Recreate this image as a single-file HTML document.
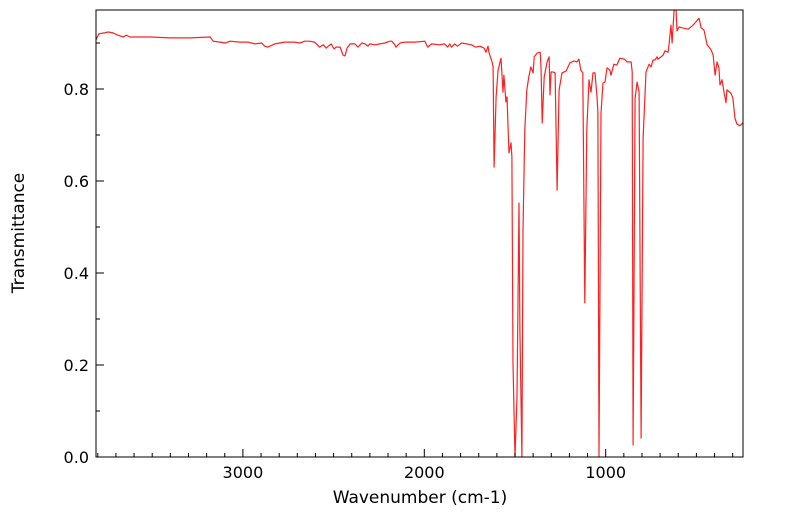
<!DOCTYPE html>
<html><head><meta charset="utf-8"><style>
body{margin:0;background:#fff;}
svg{display:block;font-family:"DejaVu Sans","Liberation Sans",sans-serif;}
</style></head><body>
<svg id="chart" width="799" height="516"></svg>
<script>
const wavenumbers=[3810,3794,3765,3743,3716,3688,3660,3644,3622,
3512,3402,3291,3180,3164,3126,3098,3071,3016,2972,2934,2896,2879,2863,2824,2770,2715,2687,2660,2633,2605,2578,2557,2541,2530,2513,2497,2486,2464,2448,2437,2426,2409,2382,2366,2344,2327,2311,2300,2272,2245,2218,2190,2179,2162,2156,2134,2107,2052,1997,
1981,1959,1915,1888,1871,1860,1850,1833,1817,1795,1767,1740,1718,1693,1671,1660,1649,
1643,1626,1621,1615,1604,1593,1577,1566,1561,1550,1544,1539,1533,1522,1517,1511,1500,1489,1478,1473,1462,1456,1446,1435,1424,1413,1400,1394,1378,1361,1356,1350,1339,1323,1312,1307,1301,1290,1279,1268,1257,1241,1219,1197,1175,1159,1148,1137,1126,1115,1104,1092,1081,1070,1059,1048,1043,1037,1026,1015,1004,993,
977,971,955,939,922,898,882,860,854,849,838,827,816,805,794,778,761,750,739,728,717,712,694,683,673,656,651,640,634,629,623,612,607,596,579,545,518,485,474,458,441,419,408,397,386,376,370,359,348,337,332,310,299,288,277,261,244];
const transmittance=[.907,.920,.922,.924,.922,.917,.913,.917,.913,
.913,.911,.911,.913,.904,.902,.900,.904,.902,.902,.898,.900,.893,.891,.898,.902,.902,.900,.904,.904,.902,.891,.896,.889,.893,.898,.887,.891,.891,.874,.872,.889,.898,.898,.891,.900,.898,.893,.898,.896,.898,.900,.904,.904,.896,.891,.900,.902,.902,.904,
.891,.898,.896,.898,.891,.898,.891,.898,.893,.900,.898,.896,.891,.893,.889,.880,.893,
.878,.859,.848,.630,.783,.841,.867,.793,.830,.772,.783,.726,.661,.683,.652,.204,0,.130,.552,.276,0,.493,.711,.798,.826,.848,.835,.870,.878,.880,.841,.726,.826,.859,.870,.787,.837,.837,.835,.580,.798,.835,.839,.857,.861,.859,.865,.841,.835,.335,.711,.820,.793,.835,.835,.783,.748,0,.748,.813,.815,.846,
.841,.830,.854,.852,.867,.865,.859,.859,.837,.026,.780,.815,.793,.041,.693,.837,.854,.848,.863,.863,.870,.865,.870,.874,.883,.880,.896,.939,.900,.933,.972,.972,.926,.935,.933,.930,.939,.954,.933,.928,.896,.885,.874,.830,.859,.846,.809,.820,.793,.770,.798,.791,.780,.737,.724,.720,.726];
const xTicks=[3000,2000,1000];
const yTicks=[0,0.2,0.4,0.6,0.8];
const L=96,R=743,T=10,B=457;
const xs=w=>605.7+(1000-w)*0.1814;
const ys=v=>B-v*460;
const NS="http://www.w3.org/2000/svg";
const svg=document.getElementById('chart');
function mk(t,a){const e=document.createElementNS(NS,t);for(const k in a)e.setAttribute(k,a[k]);svg.appendChild(e);return e;}
const clip=mk('clipPath',{id:'pa'});
const cr=document.createElementNS(NS,'rect');cr.setAttribute('x',L);cr.setAttribute('y',T);cr.setAttribute('width',R-L);cr.setAttribute('height',B-T);clip.appendChild(cr);
const pts=wavenumbers.map((w,i)=>xs(w).toFixed(1)+','+ys(transmittance[i]).toFixed(1)).join(' ');
const line=mk('polyline',{points:pts,fill:'none',stroke:'#ff2020','stroke-width':1.2,'stroke-linejoin':'round','clip-path':'url(#pa)'});


const frame=mk('rect',{x:L,y:T,width:R-L,height:B-T,fill:'none',stroke:'#000','stroke-width':1});


for(let w=3800;w>=200;w-=100){const x=xs(w);if(x<L||x>R)continue;const maj=w%1000===0;
 mk('line',{x1:x,x2:x,y1:B,y2:B-(maj?8:4),stroke:'#000','stroke-width':1});}
xTicks.forEach(w=>{const t=mk('text',{x:xs(w),y:478,'text-anchor':'middle','font-size':16,fill:'#000'});t.textContent=String(w);
 
 });
for(let k=0;k<=9;k++){const v=k/10;const y=ys(v);if(y<T)continue;const maj=k%2===0;
 mk('line',{x1:L,x2:L+(maj?8:4),y1:y,y2:y,stroke:'#000','stroke-width':1});}
yTicks.forEach(v=>{const t=mk('text',{x:89,y:ys(v)+6,'text-anchor':'end','font-size':16,fill:'#000'});t.textContent=v.toFixed(1);
 
 });
const xt=mk('text',{x:420,y:503,'text-anchor':'middle','font-size':17,fill:'#000'});xt.textContent='Wavenumber (cm-1)';


const yt=mk('text',{x:24,y:233,'text-anchor':'middle','font-size':17,fill:'#000',transform:'rotate(-90 24 233)'});yt.textContent='Transmittance';


</script>
</body></html>
